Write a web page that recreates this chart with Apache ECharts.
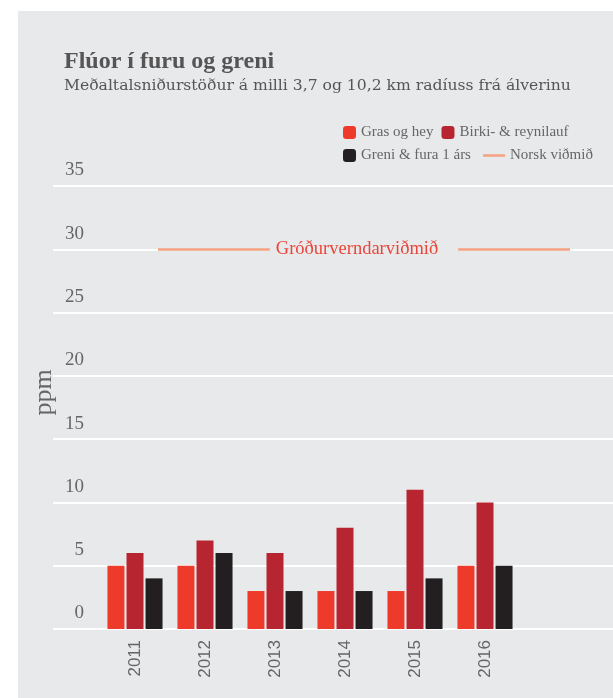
<!DOCTYPE html>
<html>
<head>
<meta charset="utf-8">
<script src="https://cdn.jsdelivr.net/npm/echarts@6/dist/echarts.min.js"></script>
<style>
  html, body { margin: 0; padding: 0; background: #fff; }
  #bg { position: absolute; left: 18px; top: 11px; width: 595px; height: 687px; background: #e8e9eb; }
  #chart { position: absolute; left: 0; top: 0; width: 613px; height: 698px; }
</style>
</head>
<body>
<div id="bg"></div>
<div id="chart"></div>
<script>
// gögn lesin af myndinni
const years = ['2011', '2012', '2013', '2014', '2015', '2016'];
const grasOgHey = [5, 5, 3, 3, 3, 5];
const birkiReynilauf = [6, 7, 6, 8, 11, 10];
const greniFura = [4, 6, 3, 3, 4, 5];
const norskVidmid = 30;
const yMin = 0;
const yMax = 35;
const yStep = 5;

const serif = 'Liberation Serif';
const textGrey = '#666';

const chart = echarts.init(document.getElementById('chart'));

const hiddenY = (idx) => ({
  type: 'value', gridIndex: idx, min: yMin, max: yMax, interval: yStep,
  show: false, splitLine: { show: false }
});

const option = {
  animation: false,
  title: {
    text: 'Flúor í furu og greni',
    subtext: 'Meðaltalsniðurstöður á milli 3,7 og 10,2 km radíuss frá álverinu',
    left: 64,
    top: 50,
    padding: 0,
    itemGap: 4,
    textStyle: { fontFamily: serif, fontWeight: 'bold', fontSize: 24, color: '#555' },
    subtextStyle: { fontFamily: 'DejaVu Serif', fontSize: 15.6, color: '#555' }
  },
  legend: [
    {
      data: ['Gras og hey', 'Birki- & reynilauf'],
      left: 343, top: 125, padding: 0,
      itemWidth: 13, itemHeight: 13, itemGap: 8,
      textStyle: { fontFamily: serif, fontSize: 15, color: textGrey }
    },
    {
      data: ['Greni & fura 1 árs'],
      left: 343, top: 148, padding: 0,
      itemWidth: 13, itemHeight: 13,
      textStyle: { fontFamily: serif, fontSize: 15, color: textGrey }
    },
    {
      data: [{ name: 'Norsk viðmið', icon: 'rect' }],
      left: 483, top: 148, padding: 0,
      itemWidth: 22, itemHeight: 2.5,
      textStyle: { fontFamily: serif, fontSize: 15, color: textGrey }
    }
  ],
  grid: [
    // hjálparnet: láréttar línur og y-ás
    { left: 53, right: 0, top: 186, bottom: 69 },
    // súlur
    { left: 100, right: 93, top: 186, bottom: 69 },
    // viðmiðslína
    { left: 158, right: 43, top: 186, bottom: 69 }
  ],
  xAxis: [
    { type: 'value', gridIndex: 0, show: false, splitLine: { show: false } },
    {
      type: 'category', gridIndex: 1, data: years,
      axisLine: { show: false }, axisTick: { show: false },
      axisLabel: { rotate: 90, margin: 11, fontFamily: 'Liberation Sans', fontSize: 17, color: textGrey }
    },
    { type: 'value', gridIndex: 2, show: false, splitLine: { show: false } }
  ],
  yAxis: [
    {
      type: 'value', gridIndex: 0, min: yMin, max: yMax, interval: yStep,
      name: 'ppm',
      nameLocation: 'middle',
      nameRotate: 90,
      nameGap: -4,
      nameMoveOverlap: false,
      nameTextStyle: { fontFamily: serif, fontSize: 26, color: textGrey, padding: [0, 0, 0, 30] },
      axisLine: { show: false },
      axisTick: { show: false },
      axisLabel: {
        margin: -31, align: 'right', verticalAlign: 'bottom', padding: [0, 0, 6, 0],
        fontFamily: serif, fontSize: 19, color: textGrey
      },
      splitLine: { show: true, lineStyle: { color: '#fff', width: 2 } }
    },
    hiddenY(1),
    hiddenY(2)
  ],
  series: [
    {
      name: 'Gras og hey', type: 'bar', xAxisIndex: 1, yAxisIndex: 1,
      barWidth: 17, barGap: '12%',
      itemStyle: { color: '#ee3a2b' },
      data: grasOgHey
    },
    {
      name: 'Birki- & reynilauf', type: 'bar', xAxisIndex: 1, yAxisIndex: 1,
      barWidth: 17, barGap: '12%',
      itemStyle: { color: '#b72630' },
      data: birkiReynilauf
    },
    {
      name: 'Greni & fura 1 árs', type: 'bar', xAxisIndex: 1, yAxisIndex: 1,
      barWidth: 17, barGap: '12%',
      itemStyle: { color: '#231f20' },
      data: greniFura
    },
    {
      name: 'Norsk viðmið', type: 'line', xAxisIndex: 2, yAxisIndex: 2,
      symbol: 'none',
      itemStyle: { color: '#f5a081' },
      lineStyle: { color: '#f5a081', width: 2.5 },
      data: [],
      markLine: {
        silent: true,
        symbol: 'none',
        lineStyle: { color: '#f5a081', width: 2.5, type: 'solid' },
        label: {
          show: true,
          position: 'middle',
          distance: 0,
          verticalAlign: 'middle',
          formatter: 'Gróðurverndarviðmið',
          fontFamily: serif,
          fontSize: 18.5,
          color: '#e8463a',
          backgroundColor: '#e8e9eb',
          padding: [2, 20, 2, 6]
        },
        data: [{ yAxis: norskVidmid }]
      }
    }
  ]
};

chart.setOption(option);
</script>
</body>
</html>
